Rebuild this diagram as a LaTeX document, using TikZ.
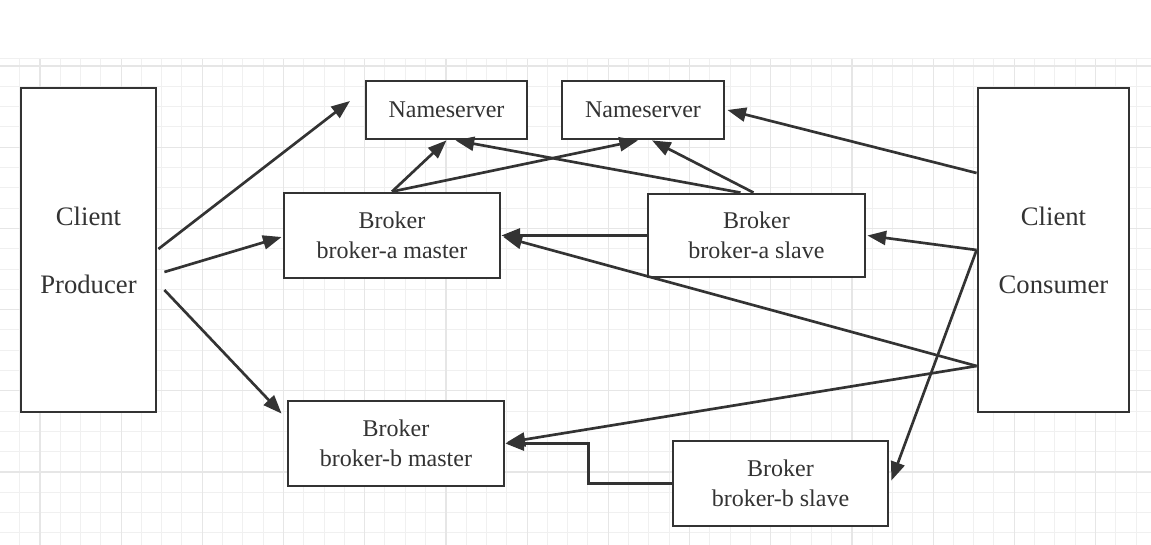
\documentclass[tikz,border=0pt]{standalone}
\usepackage{fontspec}
\setmainfont{Liberation Serif}
\usetikzlibrary{arrows.meta,calc}
\definecolor{ink}{HTML}{333333}
\definecolor{gridminor}{HTML}{F0F0F0}
\definecolor{gridmajor}{HTML}{E6E6E6}
\tikzset{
  boxnode/.style={draw=ink, line width=2.1pt, fill=white, text=ink, inner sep=0pt,
    font=\fontsize{18}{22.5}\selectfont, align=center},
  clientnode/.style={boxnode, font=\fontsize{20}{24}\selectfont},
  arr/.style={draw=ink, line width=2pt, -{Triangle[length=14pt,width=10.5pt]}},
  gminor/.style={draw=gridminor, line width=0.75pt},
  gmajor/.style={draw=gridmajor, line width=0.9pt}
}
\begin{document}
\begin{tikzpicture}[x=0.75pt, y=-0.75pt]
\useasboundingbox (0,0) rectangle (1151,545);
\fill[white] (0,0) rectangle (1151,545);
% grid
\begin{scope}
\clip (0,59) rectangle (1151,545);
\foreach \i in {0,...,57} \draw[gminor] ({-0.8+20.3*\i},59) -- ({-0.8+20.3*\i},545);
\foreach \j in {-1,...,24} \draw[gminor] (0,{66+20.3*\j}) -- (1151,{66+20.3*\j});
\foreach \i in {0,...,13} \draw[gmajor] ({40+81.2*\i},59) -- ({40+81.2*\i},545);
\foreach \j in {0,...,5} \draw[gmajor] (0,{66+81.2*\j}) -- (1151,{66+81.2*\j});
\draw[gminor] (0,59) -- (1151,59);
\end{scope}
% nodes
\node[clientnode, minimum width=101.25pt, minimum height=243pt] (prod) at (88.5,250) {Client\\[27pt]Producer};
\node[clientnode, minimum width=113.25pt, minimum height=243pt] (cons) at (1053.5,250) {Client\\[27pt]Consumer};
\node[boxnode, minimum width=120.75pt, minimum height=43.5pt] (ns1) at (446.5,110) {Nameserver};
\node[boxnode, minimum width=121.5pt, minimum height=43.5pt] (ns2) at (643,110) {Nameserver};
\node[boxnode, minimum width=162pt, minimum height=63.75pt] (bam) at (392,235.5) {Broker\\broker-a master};
\node[boxnode, minimum width=162.75pt, minimum height=62.25pt] (bas) at (756.5,235.5) {Broker\\broker-a slave};
\node[boxnode, minimum width=162pt, minimum height=63.75pt] (bbm) at (396,443.5) {Broker\\broker-b master};
\node[boxnode, minimum width=161.25pt, minimum height=63.75pt] (bbs) at (780.5,483.5) {Broker\\broker-b slave};
\coordinate (nsfree) at (350,101);
% connectors from producer
\draw[arr] ($(prod.east)+(1,-1)$) -- (nsfree);
\draw[arr] ($(prod.east)+(7,22)$) -- ($(bam.west)+(-1,1.5)$);
\draw[arr] ($(prod.east)+(7,40)$) -- ($(bbm.north west)+(-5,14)$);
% brokers to nameservers
\draw[arr] (bam.north) -- (ns1.south);
\draw[arr] (bam.north) -- ($(ns2.south)+(-5,0)$);
\draw[arr] ($(bas.north)+(-16,0)$) -- ($(ns1.south)+(9,0)$);
\draw[arr] ($(bas.north)+(-3,0)$) -- ($(ns2.south)+(9,0)$);
% slave to master
\draw[arr] (bas.west) -- (bam.east);
\coordinate (bmid) at ($(bbm.east)!0.5!(bbs.west)$);
\draw[arr] (bbs.west) -| (bmid) |- (bbm.east);
% consumer
\draw[arr] ($(cons.west)+(0,-77)$) -- ($(ns2.east)+(2,0)$);
\draw[arr] (cons.west) -- ($(bas.east)+(1,0)$);
\draw[arr] ($(cons.west)+(0,116)$) -- ($(bam.east)+(2,1.5)$);
\draw[arr] ($(cons.west)+(0,116)$) -- ($(bbm.east)+(1,-1)$);
\draw[arr] (cons.west) -- ($(bbs.east)+(2,-3)$);
\end{tikzpicture}
\end{document}
